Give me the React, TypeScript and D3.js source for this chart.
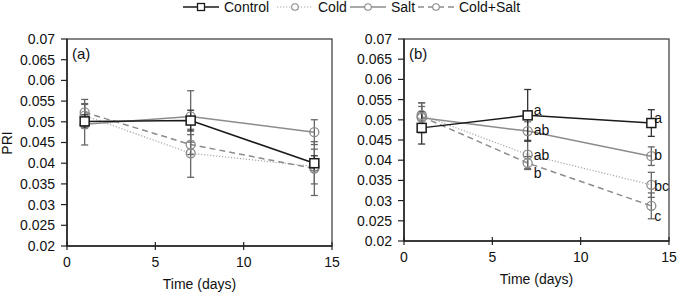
import React from "react";
import * as d3 from "d3";

// Sampling days
const days = [1, 7, 14];
const seriesNames = ["Control", "Cold", "Salt", "Cold+Salt"];

// Panel (a) means and standard errors
const aControl = [0.0501, 0.0503, 0.04];
const aControlErr = [0.0016, 0.0025, 0.0018];
const aCold = [0.0515, 0.0424, 0.0392];
const aColdErr = [0.0027, 0.0058, 0.0042];
const aSalt = [0.0494, 0.0513, 0.0475];
const aSaltErr = [0.005, 0.0062, 0.003];
const aColdSalt = [0.0523, 0.0445, 0.0387];
const aColdSaltErr = [0.0031, 0.0024, 0.0065];

// Panel (b) means and standard errors
const bControl = [0.048, 0.0511, 0.0492];
const bControlErr = [0.004, 0.0064, 0.0033];
const bCold = [0.0512, 0.0414, 0.0339];
const bColdErr = [0.003, 0.0035, 0.0031];
const bSalt = [0.0505, 0.0472, 0.041];
const bSaltErr = [0.0037, 0.0023, 0.0023];
const bColdSalt = [0.0508, 0.0393, 0.0287];
const bColdSaltErr = [0.0025, 0.0016, 0.0032];

// Significance letters for panel (b)
const bControlLetters = ["", "a", "a"];
const bColdLetters = ["", "ab", "bc"];
const bSaltLetters = ["", "ab", "b"];
const bColdSaltLetters = ["", "b", "c"];

const yTicks = [0.02, 0.025, 0.03, 0.035, 0.04, 0.045, 0.05, 0.055, 0.06, 0.065, 0.07];
const xTicks = [0, 5, 10, 15];

const FONT = "'Liberation Sans', Arial, sans-serif";

type Style = {
  color: string;
  dash: string;
  width: number;
  marker: "square" | "circle";
  errColor: string;
};

const styles: Record<string, Style> = {
  Control: { color: "#1a1a1a", dash: "", width: 1.5, marker: "square", errColor: "#333" },
  Cold: { color: "#a6a6a6", dash: "1.2,1.8", width: 1.2, marker: "circle", errColor: "#666" },
  Salt: { color: "#8c8c8c", dash: "", width: 1.5, marker: "circle", errColor: "#666" },
  "Cold+Salt": { color: "#8c8c8c", dash: "6,4", width: 1.5, marker: "circle", errColor: "#666" },
};

// Vertical letter offset relative to each marker
const letterDy: Record<string, number> = {
  Control: -5,
  Salt: -1,
  Cold: 1,
  "Cold+Salt": 10,
};

type Series = { name: string; mean: number[]; err: number[]; letters?: string[] };

const panelA: Series[] = [
  { name: "Cold", mean: aCold, err: aColdErr },
  { name: "Cold+Salt", mean: aColdSalt, err: aColdSaltErr },
  { name: "Salt", mean: aSalt, err: aSaltErr },
  { name: "Control", mean: aControl, err: aControlErr },
];

const panelB: Series[] = [
  { name: "Cold", mean: bCold, err: bColdErr, letters: bColdLetters },
  { name: "Cold+Salt", mean: bColdSalt, err: bColdSaltErr, letters: bColdSaltLetters },
  { name: "Salt", mean: bSalt, err: bSaltErr, letters: bSaltLetters },
  { name: "Control", mean: bControl, err: bControlErr, letters: bControlLetters },
];

function Marker({ kind, x, y, color }: { kind: string; x: number; y: number; color: string }) {
  if (kind === "square") {
    return <rect x={x - 4.5} y={y - 4.5} width={9} height={9} fill="white" stroke={color} strokeWidth={1.5} />;
  }
  return <circle cx={x} cy={y} r={4.5} fill="none" stroke={color} strokeWidth={1.3} />;
}

function Panel({
  left,
  right,
  top,
  bottom,
  label,
  series,
}: {
  left: number;
  right: number;
  top: number;
  bottom: number;
  label: string;
  series: Series[];
}) {
  const x = d3.scaleLinear().domain([0, 15]).range([left, right]);
  const y = d3.scaleLinear().domain([0.02, 0.07]).range([bottom, top]);
  const line = d3
    .line<number>()
    .x((_, i) => x(days[i]))
    .y((v) => y(v));
  const fmt = (v: number) => String(+v.toFixed(3));

  return (
    <g>
      {/* frame */}
      <rect x={left} y={top} width={right - left} height={bottom - top} fill="white" stroke="#444" strokeWidth={1.3} />
      <line x1={left} x2={left} y1={top} y2={bottom} stroke="#222" strokeWidth={1.5} />
      <line x1={left} x2={right} y1={bottom} y2={bottom} stroke="#222" strokeWidth={1.5} />

      {/* y axis */}
      {yTicks.map((t) => (
        <g key={t}>
          <line x1={left - 6} x2={left} y1={y(t)} y2={y(t)} stroke="#222" strokeWidth={1.2} />
          <text x={left - 12} y={y(t)} dy="0.35em" textAnchor="end" fontSize={14} fontFamily={FONT} fill="#111">
            {fmt(t)}
          </text>
        </g>
      ))}

      {/* x axis */}
      {xTicks.map((t) => (
        <g key={t}>
          <line x1={x(t)} x2={x(t)} y1={bottom - 4} y2={bottom + 4} stroke="#222" strokeWidth={1.2} />
          <text x={x(t)} y={bottom + 21} textAnchor="middle" fontSize={14} fontFamily={FONT} fill="#111">
            {t}
          </text>
        </g>
      ))}
      <text x={(left + right) / 2} y={bottom + 43} textAnchor="middle" fontSize={14} fontFamily={FONT} fill="#111">
        Time (days)
      </text>

      <text x={left + 5} y={top + 20} fontSize={15} fontFamily={FONT} fill="#111">
        {label}
      </text>

      {/* lines */}
      {series.map((s) => {
        const st = styles[s.name];
        return (
          <path
            key={s.name + "-line"}
            d={line(s.mean) || ""}
            fill="none"
            stroke={st.color}
            strokeWidth={st.width}
            strokeDasharray={st.dash || undefined}
          />
        );
      })}

      {/* error bars */}
      {series.map((s) => {
        const st = styles[s.name];
        return (
          <g key={s.name + "-err"} stroke={st.errColor} strokeWidth={1.3}>
            {s.mean.map((m, i) => {
              const cx = x(days[i]);
              const y1 = y(m + s.err[i]);
              const y2 = y(m - s.err[i]);
              return (
                <g key={i}>
                  <line x1={cx} x2={cx} y1={y1} y2={y2} />
                  <line x1={cx - 3.5} x2={cx + 3.5} y1={y1} y2={y1} />
                  <line x1={cx - 3.5} x2={cx + 3.5} y1={y2} y2={y2} />
                </g>
              );
            })}
          </g>
        );
      })}

      {/* markers */}
      {series.map((s) => {
        const st = styles[s.name];
        return (
          <g key={s.name + "-mk"}>
            {s.mean.map((m, i) => (
              <Marker key={i} kind={st.marker} x={x(days[i])} y={y(m)} color={s.name === "Control" ? st.color : "#8a8a8a"} />
            ))}
          </g>
        );
      })}

      {/* significance letters */}
      {series.map((s) => {
        if (!s.letters) return null;
        const dy = letterDy[s.name];
        return (
          <g key={s.name + "-lt"}>
            {s.mean.map((m, i) =>
              s.letters![i] ? (
                <text
                  key={i}
                  x={x(days[i]) + (i === days.length - 1 ? 3 : 6)}
                  y={y(m) + dy}
                  dy="0.35em"
                  fontSize={14}
                  fontFamily={FONT}
                  fill="#111"
                >
                  {s.letters![i]}
                </text>
              ) : null
            )}
          </g>
        );
      })}
    </g>
  );
}

function Legend() {
  const items = [
    { name: seriesNames[0], x: 183 },
    { name: seriesNames[1], x: 277 },
    { name: seriesNames[2], x: 350 },
    { name: seriesNames[3], x: 418 },
  ];
  const y = 7;
  return (
    <g>
      {items.map((it) => {
        const st = styles[it.name];
        const w = 36;
        return (
          <g key={it.name}>
            <line
              x1={it.x}
              x2={it.x + w}
              y1={y}
              y2={y}
              stroke={st.color}
              strokeWidth={st.width}
              strokeDasharray={st.dash || undefined}
            />
            {st.marker === "square" ? (
              <rect x={it.x + w / 2 - 3.5} y={y - 3.5} width={7} height={7} fill="white" stroke={st.color} strokeWidth={1.3} />
            ) : (
              <circle cx={it.x + w / 2} cy={y} r={3.3} fill="white" stroke="#8a8a8a" strokeWidth={1.1} />
            )}
            <text x={it.x + w + 5} y={y} dy="0.35em" fontSize={14} fontFamily={FONT} fill="#111">
              {it.name}
            </text>
          </g>
        );
      })}
    </g>
  );
}

export default function App() {
  return (
    <svg
      width={678}
      height={294}
      style={{ position: "absolute", left: 0, top: 0, background: "white" }}
    >
      <rect width={678} height={294} fill="white" />
      <Legend />
      <text
        transform="translate(12,143) rotate(-90)"
        textAnchor="middle"
        fontSize={14}
        fontFamily={FONT}
        fill="#111"
      >
        PRI
      </text>
      <Panel left={67} right={332} top={39} bottom={246} label="(a)" series={panelA} />
      <Panel left={404} right={669} top={39} bottom={241} label="(b)" series={panelB} />
    </svg>
  );
}
